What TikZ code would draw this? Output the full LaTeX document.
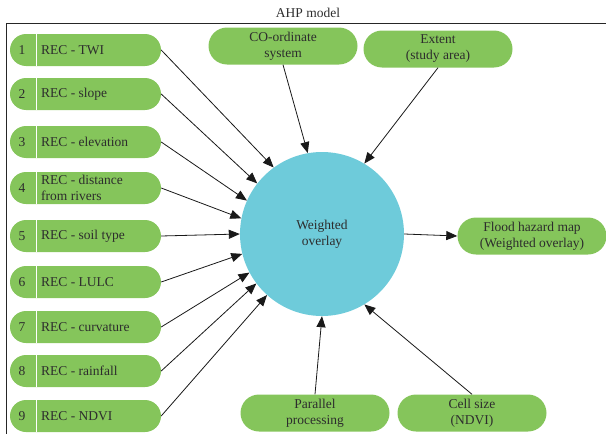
\documentclass[tikz,border=0pt]{standalone}
\usepackage{fontspec}
\setmainfont{Liberation Serif}
\usetikzlibrary{arrows.meta,shapes.misc}
\definecolor{pillgreen}{RGB}{133,197,91}
\definecolor{circblue}{RGB}{110,203,218}
\definecolor{txt}{RGB}{45,45,45}
\begin{document}
\begin{tikzpicture}[x=1pt,y=-1pt,
  every node/.style={font=\fontsize{13.5}{16}\selectfont, text=txt},
  leftpill/.style={rounded rectangle, fill=pillgreen, minimum width=151pt, minimum height=32pt, inner sep=0pt},
  pill/.style={rounded rectangle, fill=pillgreen, minimum width=149pt, minimum height=37pt, inner sep=0pt, align=center},
  numlab/.style={inner sep=0pt},
  reclab/.style={inner sep=0pt, anchor=west, align=left},
  arr/.style={line width=0.8pt, black!90, -{Triangle[length=11pt,width=9pt]}},
  frameline/.style={line width=1pt, black!85}
]
\useasboundingbox (0,0) rectangle (606,434);
% title and frame
\node (title) at (308,13) {AHP model};
\draw[frameline] (6,434) -- (6,23) -- (606,23);
% central circle
\node[circle, fill=circblue, minimum size=164pt, inner sep=0pt, align=center] (c) at (322,234) {Weighted\\overlay};
% left pills
\foreach \i/\y/\t/\a in {1/50/{REC - TWI}/126, 2/94/{REC - slope}/142, 3/142/{REC - elevation}/156,
  4/188/{REC - distance\\from rivers}/169, 5/236/{REC - soil type}/180, 6/282/{REC - LULC}/194,
  7/327/{REC - curvature}/208, 8/371/{REC - rainfall}/217, 9/416/{REC - NDVI}/228}{
  \node[leftpill] (n\i) at (85.5,\y) {};
  \draw[white, line width=1.5pt] (36.5,\y-16) -- (36.5,\y+16);
  \node[numlab] (num\i) at (22,\y) {\i};
  \node[reclab] (lab\i) at (41,\y) {\t};
  \draw[arr] (n\i.east) -- (c.\a);
}
% other pills
\node[pill] (co) at (283,46) {CO-ordinate\\system};
\node[pill] (ex) at (438,49) {Extent\\(study area)};
\node[pill] (fl) at (532,236) {Flood hazard map\\(Weighted overlay)};
\node[pill] (par) at (315,413) {Parallel\\processing};
\node[pill] (cell) at (472,413) {Cell size\\(NDVI)};
\draw[arr] (co.south) -- (c.100);
\draw[arr] (ex.south) -- (c.59);
\draw[arr] (par.north) -- (c.270);
\draw[arr] (cell.north) -- (c.301);
\draw[arr] (c.east) -- (fl.west);
\end{tikzpicture}
\end{document}
